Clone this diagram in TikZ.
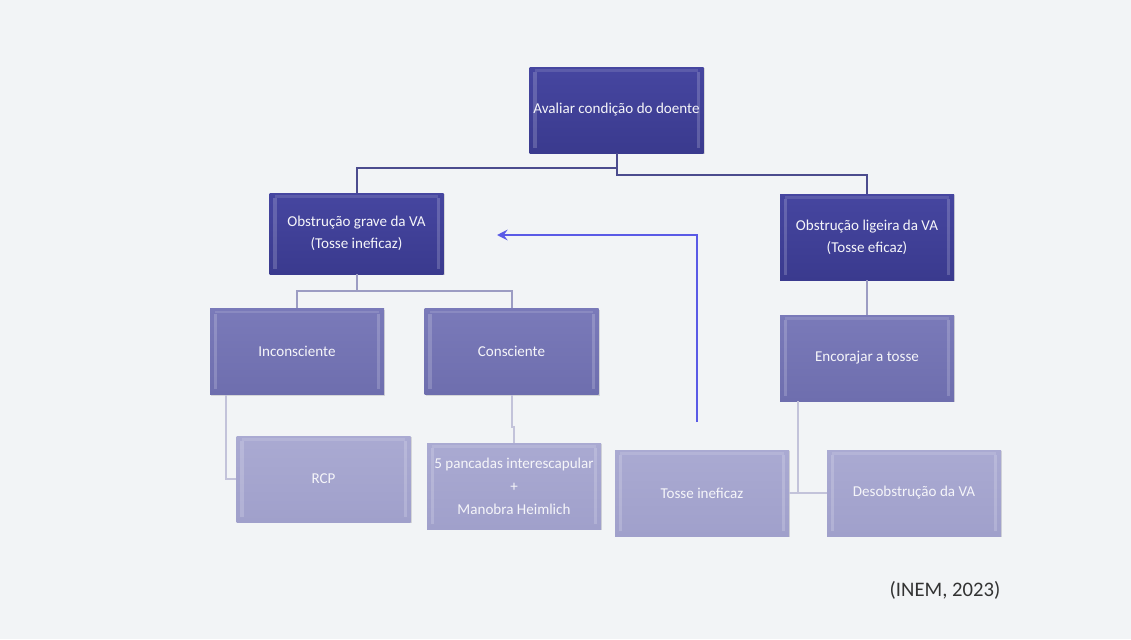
\documentclass[tikz,border=0pt]{standalone}
\usepackage{fontspec}
\setmainfont{Carlito}
\usepackage{tikz}
\usetikzlibrary{
    arrows.meta,
    positioning,
    shadows
}

\definecolor{bgpaper}{HTML}{F2F4F6}
\definecolor{boxone}{HTML}{3A3A8E}
\definecolor{boxonetop}{HTML}{4646A0}
\definecolor{boxtwo}{HTML}{6E6EAE}
\definecolor{boxtwotop}{HTML}{7A7AB9}
\definecolor{boxthree}{HTML}{A0A0CB}
\definecolor{boxthreetop}{HTML}{AAAAD2}
\definecolor{linkone}{HTML}{4C4C8E}
\definecolor{linktwo}{HTML}{9C9CC3}
\definecolor{linkthree}{HTML}{C3C3DA}
\definecolor{backarrow}{HTML}{5A5AE6}

\tikzset{
    card/.style={rectangle, text=white!95!boxone, align=center,
        minimum width=130.5pt, minimum height=64.5pt, inner sep=1pt,
        font=\fontsize{11.3}{16.5}\selectfont,
        drop shadow={opacity=0.25, shadow xshift=1pt, shadow yshift=-1pt},
        path picture={
            \draw[white, opacity=0.18, line width=2.5pt]
                ([xshift=4pt,yshift=4pt]path picture bounding box.south west) --
                ([xshift=4pt,yshift=-4pt]path picture bounding box.north west);
            \draw[white, opacity=0.18, line width=2.5pt]
                ([xshift=-4pt,yshift=4pt]path picture bounding box.south east) --
                ([xshift=-4pt,yshift=-4pt]path picture bounding box.north east);
            \draw[white, opacity=0.12, line width=2pt]
                ([xshift=4pt,yshift=-2.5pt]path picture bounding box.north west) --
                ([xshift=-4pt,yshift=-2.5pt]path picture bounding box.north east);
        }},
    cardone/.style={card, top color=boxonetop, bottom color=boxone},
    cardtwo/.style={card, top color=boxtwotop, bottom color=boxtwo},
    cardthree/.style={card, top color=boxthreetop, bottom color=boxthree},
    linkone/.style={draw=linkone, line width=1.5pt},
    linktwo/.style={draw=linktwo, line width=1.5pt},
    linkthree/.style={draw=linkthree, line width=1.5pt}
}

\begin{document}
\begin{tikzpicture}[x=0.75pt,y=-0.75pt]

% paper
\fill[bgpaper] (0,0) rectangle (1131,639);
\useasboundingbox (0,0) rectangle (1131,639);

% first row
\node[cardone] (avaliar) at (616.5,110) {Avaliar condição do doente};

% second row
\node[cardone, minimum height=60.75pt] (grave) at (356.5,233.5)
    {Obstrução grave da VA\\(Tosse ineficaz)};
\node[cardone] (ligeira) at (867,237)
    {Obstrução ligeira da VA\\(Tosse eficaz)};

% third row
\node[cardtwo] (incons) at (297,351.5) {Inconsciente};
\node[cardtwo] (cons) at (511.5,351.5) {Consciente};
\node[cardtwo] (encor) at (867,358) {Encorajar a tosse};

% fourth row
\node[cardthree, font=\fontsize{11.3}{17.25}\selectfont] (rcp) at (323.5,479) {RCP};
\node[cardthree, font=\fontsize{11.3}{17.25}\selectfont] (panc) at (514,486)
    {5 pancadas interescapular\\+\\Manobra Heimlich};
\node[cardthree] (tosse) at (702,493) {Tosse ineficaz};
\node[cardthree] (desob) at (914,493) {Desobstrução da VA};

% links
\path[linkone] (avaliar.south) -- ++(0,15) -| (grave.north);
\path[linkone] (avaliar.south) -- ++(0,22) -| (ligeira.north);
\path[linktwo] (grave.south) -- ++(0,17) -| (incons.north);
\path[linktwo] (grave.south) -- ++(0,17) -| (cons.north);
\path[linktwo] (ligeira.south) -- (encor.north);
\path[linkthree] ([xshift=12pt]incons.south west) |- (rcp.west);
\path[linkthree] (cons.south) -- ++(0,32) -| (panc.north);
\path[linkthree] ([xshift=13.5pt]encor.south west) |- (desob.west);
\path[linkthree] (tosse.east) -- (desob.west);

% back to severe obstruction
\coordinate (loopstart) at (697,422);
\coordinate (looptip) at (497,235);
\draw[backarrow, line width=1.9pt, -{Stealth[length=8pt,width=8pt,inset=3pt]}]
    (loopstart) |- (looptip);

% source
\node[text=black!80, font=\fontsize{15.5}{18}\selectfont] (fonte) at (945,590)
    {(INEM, 2023)};

\end{tikzpicture}
\end{document}
